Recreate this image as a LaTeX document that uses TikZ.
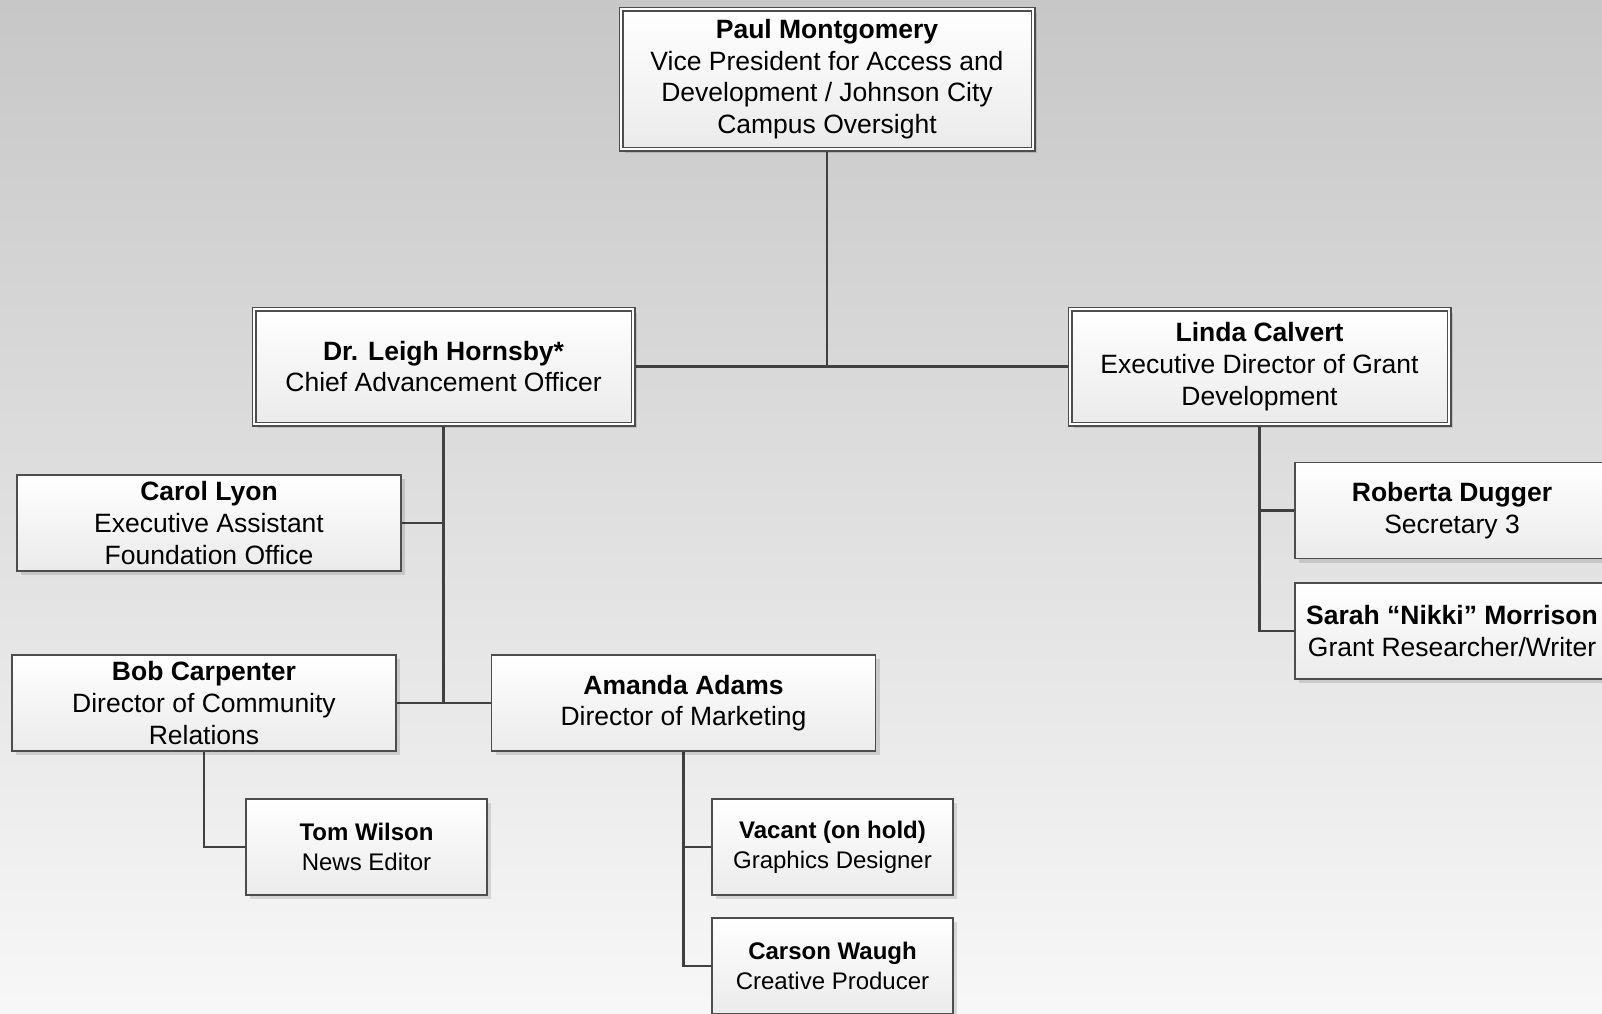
\documentclass[tikz,border=0pt]{standalone}
\usepackage{fontspec}
\setmainfont{Liberation Sans}
\usepackage{tikz}
\usetikzlibrary{positioning}
\usetikzlibrary{shadows,backgrounds}
\definecolor{boxline}{HTML}{4D4D4D}
\definecolor{linkline}{HTML}{404040}
\tikzstyle{officer} = [rectangle, draw=boxline, line width=1.2pt, double=white, double distance=2.6pt, top color=white, bottom color=black!8, minimum width=412pt, minimum height=140pt, inner sep=0pt, align=center, font=\fontsize{26.5}{31.7}\selectfont, drop shadow={shadow xshift=4pt, shadow yshift=-4pt, opacity=0.12, fill=black}]
\tikzstyle{member} = [rectangle, draw=boxline, line width=1.5pt, top color=white, bottom color=black!8, minimum width=384pt, minimum height=96pt, inner sep=0pt, align=center, font=\fontsize{26.5}{31.7}\selectfont, drop shadow={shadow xshift=4pt, shadow yshift=-4pt, opacity=0.12, fill=black}]
\tikzstyle{junior} = [member, minimum width=241pt, font=\fontsize{24}{29.6}\selectfont]
\tikzstyle{link} = [line width=2.5pt, draw=linkline]

\begin{document}
\begin{tikzpicture}[x=1pt, y=-1pt]
	\useasboundingbox (0,0) rectangle (1602,1013);
	\begin{scope}[on background layer]
		\shade[top color=black!22, bottom color=black!3] (0,0) rectangle (1602,1013);
	\end{scope}
	% top of the chart
	\node (vp) [officer] at (827,79) {\textbf{Paul Montgomery}\\ Vice President for Access and\\ Development / Johnson City\\ Campus Oversight};
	\node (advance) [officer, minimum width=379pt, minimum height=115pt] at (443.5,366.5) {\textbf{Dr. Leigh Hornsby*}\\ Chief Advancement Officer};
	\node (grants) [officer, minimum width=379pt, minimum height=115pt] at (1259.5,366.5) {\textbf{Linda Calvert}\\ Executive Director of Grant\\ Development};
	% advancement office
	\node (assistant) [member] at (209,523) {\textbf{Carol Lyon}\\ Executive Assistant\\ Foundation Office};
	\node (community) [member] at (204,703) {\textbf{Bob Carpenter}\\ Director of Community\\ Relations};
	\node (marketing) [member] at (683.5,703) {\textbf{Amanda Adams}\\ Director of Marketing};
	\node (news) [junior] at (366.5,847) {\textbf{Tom Wilson}\\ News Editor};
	\node (graphics) [junior] at (832.5,847) {\textbf{Vacant (on hold)}\\ Graphics Designer};
	\node (creative) [junior] at (832.5,966) {\textbf{Carson Waugh}\\ Creative Producer};
	% grant development
	\node (secretary) [member, minimum width=314pt] at (1452,510.5) {\textbf{Roberta Dugger}\\ Secretary 3};
	\node (researcher) [member, minimum width=314pt] at (1452,631) {\textbf{Sarah “Nikki” Morrison}\\ Grant Researcher/Writer};
	\begin{scope}[on background layer]
		\draw[link] (vp.south)--(vp.south |- advance.east);
		\draw[link] (advance.east)--(grants.west);
		\draw[link] (advance.south)--(advance.south |- marketing.west);
		\draw[link] (assistant.east)--(assistant.east -| advance.south);
		\draw[link] (community.east)--(marketing.west);
		\draw[link] (community.south) |- (news.west);
		\draw[link] (marketing.south) |- (creative.west);
		\draw[link] (graphics.west)--(graphics.west -| marketing.south);
		\draw[link] (grants.south) |- (researcher.west);
		\draw[link] (secretary.west)--(secretary.west -| grants.south);
	\end{scope}
\end{tikzpicture}
\end{document}
